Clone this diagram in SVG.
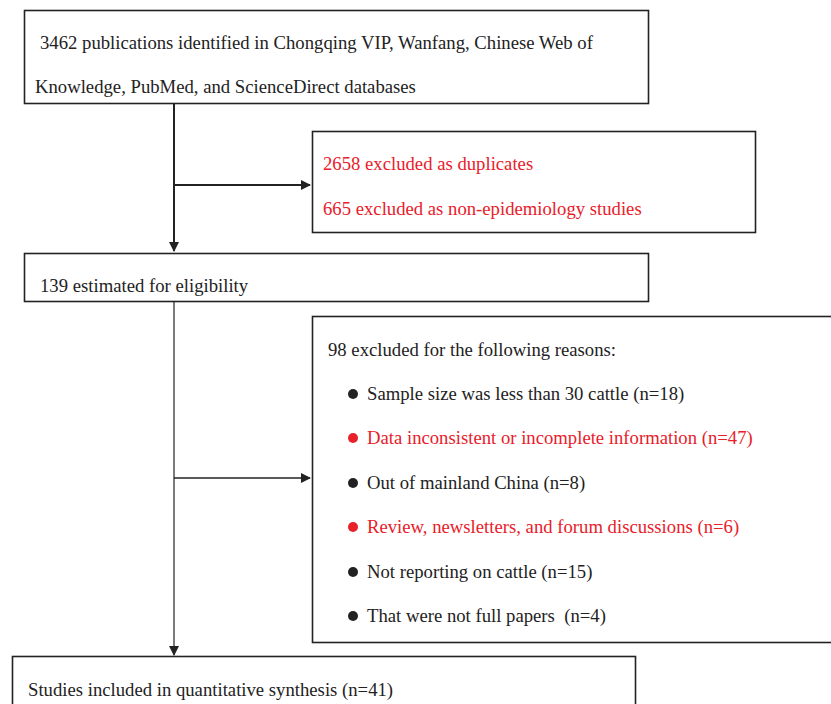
<svg xmlns="http://www.w3.org/2000/svg" width="831" height="704" viewBox="0 0 831 704">
<style>
.box{fill:#fff;stroke:#222;stroke-width:1.6}
.t{font-family:"Liberation Serif","Times New Roman",serif;font-size:18.7px;fill:#222}
.r{fill:#e8202a}
.c{stroke:#222;fill:none}
</style>
<defs>
<marker id="ah" markerWidth="10" markerHeight="10" refX="9" refY="5" orient="auto" markerUnits="userSpaceOnUse">
<path d="M0,0 L10,5 L0,10 Z" fill="#222"/>
</marker>
</defs>
<rect width="831" height="704" fill="#fff"/>
<g id="connectors">
<line class="c" x1="174" y1="104" x2="174" y2="251" stroke-width="2" marker-end="url(#ah)"/>
<line class="c" x1="174" y1="185" x2="310" y2="185" stroke-width="2" marker-end="url(#ah)"/>
<line class="c" x1="174" y1="302" x2="174" y2="655" stroke-width="1.2" marker-end="url(#ah)"/>
<line class="c" x1="174" y1="478" x2="310" y2="478" stroke-width="1.6" marker-end="url(#ah)"/>
</g>
<g id="n1">
<rect class="box" x="24.5" y="10.5" width="624" height="93"/>
<text class="t" x="40" y="49">3462 publications identified in Chongqing VIP, Wanfang, Chinese Web of</text>
<text class="t" x="35" y="93">Knowledge, PubMed, and ScienceDirect databases</text>
</g>
<g id="n2">
<rect class="box" x="312.5" y="131.5" width="443" height="101"/>
<text class="t r" x="323" y="170">2658 excluded as duplicates</text>
<text class="t r" x="323" y="215">665 excluded as non-epidemiology studies</text>
</g>
<g id="n3">
<rect class="box" x="24.5" y="253.5" width="624" height="48"/>
<text class="t" x="40" y="292">139 estimated for eligibility</text>
</g>
<g id="n4">
<rect class="box" x="312.5" y="316.5" width="530" height="326"/>
<text class="t" x="328" y="356">98 excluded for the following reasons:</text>
<circle cx="353" cy="394" r="5" fill="#222"/>
<text class="t" x="367" y="400">Sample size was less than 30 cattle (n=18)</text>
<circle cx="353" cy="438" r="5" fill="#e8202a"/>
<text class="t r" x="367" y="444">Data inconsistent or incomplete information (n=47)</text>
<circle cx="353" cy="483" r="5" fill="#222"/>
<text class="t" x="367" y="489">Out of mainland China (n=8)</text>
<circle cx="353" cy="527" r="5" fill="#e8202a"/>
<text class="t r" x="367" y="533">Review, newsletters, and forum discussions (n=6)</text>
<circle cx="353" cy="572" r="5" fill="#222"/>
<text class="t" x="367" y="578">Not reporting on cattle (n=15)</text>
<circle cx="353" cy="616" r="5" fill="#222"/>
<text class="t" x="367" y="622" xml:space="preserve">That were not full papers  (n=4)</text>
</g>
<g id="n5">
<rect class="box" x="12.5" y="656.5" width="623" height="60"/>
<text class="t" x="28" y="696">Studies included in quantitative synthesis (n=41)</text>
</g>
</svg>
